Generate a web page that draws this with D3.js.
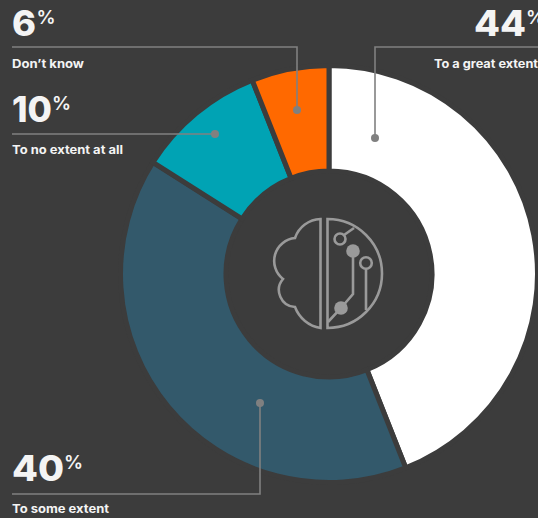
<!DOCTYPE html>
<html>
<head>
<meta charset="utf-8">
<script src="https://cdn.jsdelivr.net/npm/d3@7"></script>
<style>
html,body{margin:0;padding:0;background:#3c3c3c;overflow:hidden}
svg{display:block}
text{font-family:Inter,"Liberation Sans",sans-serif;fill:#f4f4f4}
</style>
</head>
<body>
<svg id="c" width="538" height="518"></svg>
<script>
const categories = ["To a great extent", "To some extent", "To no extent at all", "Don\u2019t know"];
const values = [44, 40, 10, 6];
const colors = ["#ffffff", "#33596b", "#00a3b4", "#ff6900"];

const width = 538, height = 518, bg = "#3c3c3c", leader = "#808080", iconCol = "#9a9a9a";
const cx = 329, cy = 274, rOuter = 208.5, rInner = 103;

const svg = d3.select("#c");
svg.append("rect").attr("width", width).attr("height", height).attr("fill", bg);

const pie = d3.pie().sort(null).value(d => d)(values);
const arc = d3.arc().innerRadius(rInner).outerRadius(rOuter);
const g = svg.append("g").attr("transform", `translate(${cx},${cy})`);
g.selectAll("path").data(pie).join("path")
  .attr("d", arc)
  .attr("fill", (d, i) => colors[i])
  .attr("stroke", bg)
  .attr("stroke-width", 5);

// annotation layout, one entry per category in the same order
const notes = [
  {pts: [[538,47],[375,47],[375,138]], numX: 474, numW: 52, numY: 36, pctX: 526, labX: 434, labW: 104, labY: 68},
  {pts: [[12,494],[260,494],[260,403]], numX: 12, numW: 52, numY: 481, pctX: 64, labX: 12, labW: 97, labY: 513},
  {pts: [[12,134],[215,134]], numX: 12, numW: 40, numY: 122, pctX: 52, labX: 12, labW: 111, labY: 154},
  {pts: [[12,47],[297,47],[297,110]], numX: 12, numW: 24, numY: 36, pctX: 36.5, labX: 12, labW: 72, labY: 68}
];
const line = d3.line();
notes.forEach((n, i) => {
  svg.append("path").attr("d", line(n.pts)).attr("fill", "none")
    .attr("stroke", leader).attr("stroke-width", 1.6);
  const end = n.pts[n.pts.length - 1];
  svg.append("circle").attr("cx", end[0]).attr("cy", end[1]).attr("r", 4).attr("fill", leader);
  svg.append("text").attr("x", n.numX).attr("y", n.numY)
    .attr("font-size", 35).attr("font-weight", 800)
    .attr("textLength", n.numW).attr("lengthAdjust", "spacingAndGlyphs")
    .text(values[i]);
  svg.append("text").attr("x", n.pctX).attr("y", n.numY - 12.5)
    .attr("font-size", 19).attr("font-weight", 600)
    .text("%");
  svg.append("text").attr("x", n.labX).attr("y", n.labY)
    .attr("font-size", 12).attr("font-weight", 700)
    .attr("textLength", n.labW).attr("lengthAdjust", "spacingAndGlyphs")
    .text(categories[i]);
});

// centre icon
const ic = svg.append("g").attr("fill", "none").attr("stroke", iconCol).attr("stroke-width", 2.6);
ic.append("path").attr("d", "M320.5 219 V328 A33 33 0 0 1 295 307 A17 17 0 0 1 283 279 A23 23 0 0 1 295 238 A28 28 0 0 1 320.5 219 Z");
ic.append("path").attr("d", "M327.5 219 V328 A54.5 54.5 0 0 0 327.5 219 Z");
ic.append("circle").attr("cx", 340).attr("cy", 239).attr("r", 5.5);
ic.append("path").attr("d", "M344 235 L354 228");
ic.append("circle").attr("cx", 366).attr("cy", 263).attr("r", 5.8);
ic.append("path").attr("d", "M366 269 V310");
ic.append("path").attr("d", "M353 251 V294 L341 308 L328 322");
ic.append("circle").attr("cx", 353).attr("cy", 251).attr("r", 6.8).attr("fill", iconCol).attr("stroke", "none");
ic.append("circle").attr("cx", 341).attr("cy", 308).attr("r", 6.8).attr("fill", iconCol).attr("stroke", "none");
</script>
</body>
</html>
